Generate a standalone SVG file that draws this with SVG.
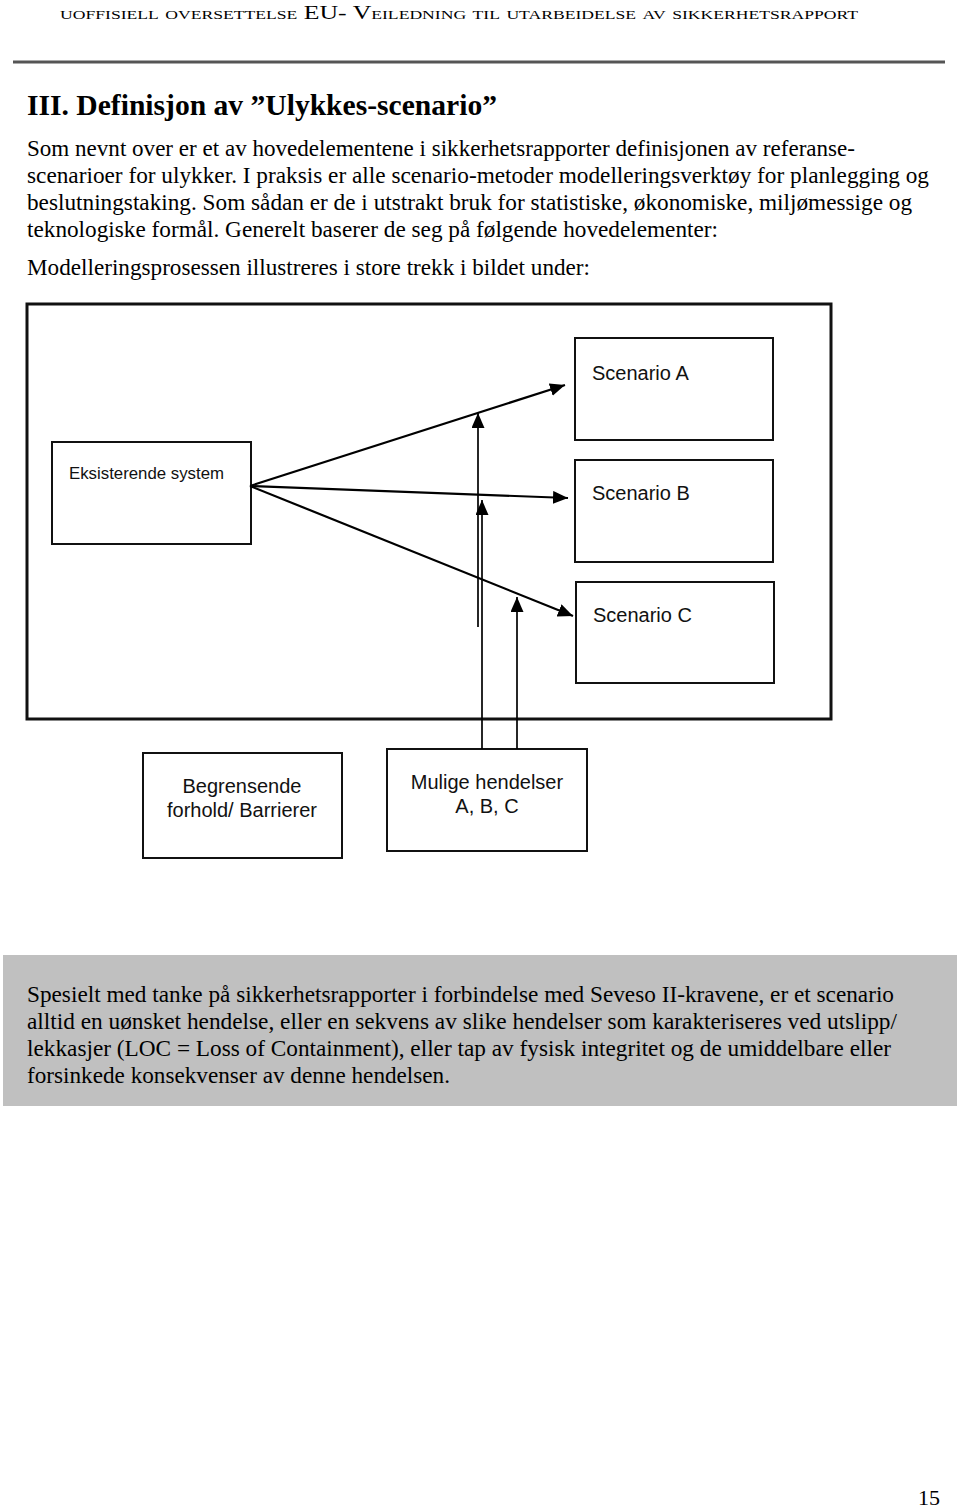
<svg xmlns="http://www.w3.org/2000/svg" width="960" height="1507" viewBox="0 0 960 1507">
<style>
.serif{font-family:"Liberation Serif","Times New Roman",serif;fill:#000}
.body{font-size:22.5px}
.sans{font-family:"Liberation Sans",Arial,sans-serif;fill:#111}
.box{fill:#fff;stroke:#111;stroke-width:2}
.conn{stroke:#000;stroke-width:2.2;fill:none}
.vert{stroke:#000;stroke-width:1.7;fill:none}
</style>
<defs>
<marker id="ah" markerUnits="userSpaceOnUse" markerWidth="15" markerHeight="13" viewBox="0 0 15 13" refX="15" refY="6.5" orient="auto">
<path d="M0,0 L15,6.5 L0,13 z" fill="#000"/>
</marker>
</defs>
<rect width="960" height="1507" fill="#fff"/>
<text class="serif" x="459" y="19" font-size="19" text-anchor="middle" font-variant="small-caps" textLength="798" lengthAdjust="spacingAndGlyphs">uoffisiell oversettelse EU- Veiledning til utarbeidelse av sikkerhetsrapport</text>
<line x1="13" y1="62" x2="945" y2="62" stroke="#555" stroke-width="3"/>
<text class="serif" x="27" y="115" font-size="30" font-weight="bold" textLength="470" lengthAdjust="spacingAndGlyphs">III. Definisjon av ”Ulykkes-scenario”</text>
<g class="serif body">
<text x="27" y="156" textLength="828" lengthAdjust="spacingAndGlyphs">Som nevnt over er et av hovedelementene i sikkerhetsrapporter definisjonen av referanse-</text>
<text x="27" y="183" textLength="902" lengthAdjust="spacingAndGlyphs">scenarioer for ulykker. I praksis er alle scenario-metoder modelleringsverktøy for planlegging og</text>
<text x="27" y="210" textLength="885" lengthAdjust="spacingAndGlyphs">beslutningstaking. Som sådan er de i utstrakt bruk for statistiske, økonomiske, miljømessige og</text>
<text x="27" y="237" textLength="691" lengthAdjust="spacingAndGlyphs">teknologiske formål. Generelt baserer de seg på følgende hovedelementer:</text>
<text x="27" y="275" textLength="563" lengthAdjust="spacingAndGlyphs">Modelleringsprosessen illustreres i store trekk i bildet under:</text>
</g>
<rect id="frame" x="27" y="304" width="804" height="415" fill="none" stroke="#111" stroke-width="3"/>
<g id="eksisterende">
<rect class="box" x="52" y="442" width="199" height="102"/>
<text class="sans" x="69" y="479" font-size="17" textLength="155" lengthAdjust="spacingAndGlyphs">Eksisterende system</text>
</g>
<g id="scenarioA">
<rect class="box" x="575" y="338" width="198" height="102"/>
<text class="sans" x="592" y="380" font-size="20">Scenario A</text>
</g>
<g id="scenarioB">
<rect class="box" x="575" y="460" width="198" height="102"/>
<text class="sans" x="592" y="500" font-size="20">Scenario B</text>
</g>
<g id="scenarioC">
<rect class="box" x="576" y="582" width="198" height="101"/>
<text class="sans" x="593" y="622" font-size="20">Scenario C</text>
</g>
<g id="begrensende">
<rect class="box" x="143" y="753" width="199" height="105"/>
<text class="sans" x="242" y="793" font-size="20" text-anchor="middle">Begrensende</text>
<text class="sans" x="242" y="817" font-size="20" text-anchor="middle">forhold/ Barrierer</text>
</g>
<g id="mulige">
<rect class="box" x="387" y="749" width="200" height="102"/>
<text class="sans" x="487" y="789" font-size="20" text-anchor="middle">Mulige hendelser</text>
<text class="sans" x="487" y="813" font-size="20" text-anchor="middle">A, B, C</text>
</g>
<g id="connectors">
<line class="conn" x1="250" y1="486" x2="565" y2="385" marker-end="url(#ah)"/>
<line class="conn" x1="250" y1="486" x2="568" y2="498" marker-end="url(#ah)"/>
<line class="conn" x1="250" y1="486" x2="573" y2="616" marker-end="url(#ah)"/>
<line class="vert" x1="478" y1="627" x2="478" y2="413" marker-end="url(#ah)"/>
<line class="vert" x1="482" y1="749" x2="482" y2="500" marker-end="url(#ah)"/>
<line class="vert" x1="517" y1="749" x2="517" y2="597" marker-end="url(#ah)"/>
</g>
<rect x="3" y="955" width="954" height="151" fill="#c0c0c0"/>
<g class="serif body">
<text x="27" y="1002" textLength="867" lengthAdjust="spacingAndGlyphs">Spesielt med tanke på sikkerhetsrapporter i forbindelse med Seveso II-kravene, er et scenario</text>
<text x="27" y="1029" textLength="870" lengthAdjust="spacingAndGlyphs">alltid en uønsket hendelse, eller en sekvens av slike hendelser som karakteriseres ved utslipp/</text>
<text x="27" y="1056" textLength="864" lengthAdjust="spacingAndGlyphs">lekkasjer (LOC = Loss of Containment), eller tap av fysisk integritet og de umiddelbare eller</text>
<text x="27" y="1083" textLength="423" lengthAdjust="spacingAndGlyphs">forsinkede konsekvenser av denne hendelsen.</text>
</g>
<text class="serif" x="918" y="1505" font-size="22">15</text>
</svg>
